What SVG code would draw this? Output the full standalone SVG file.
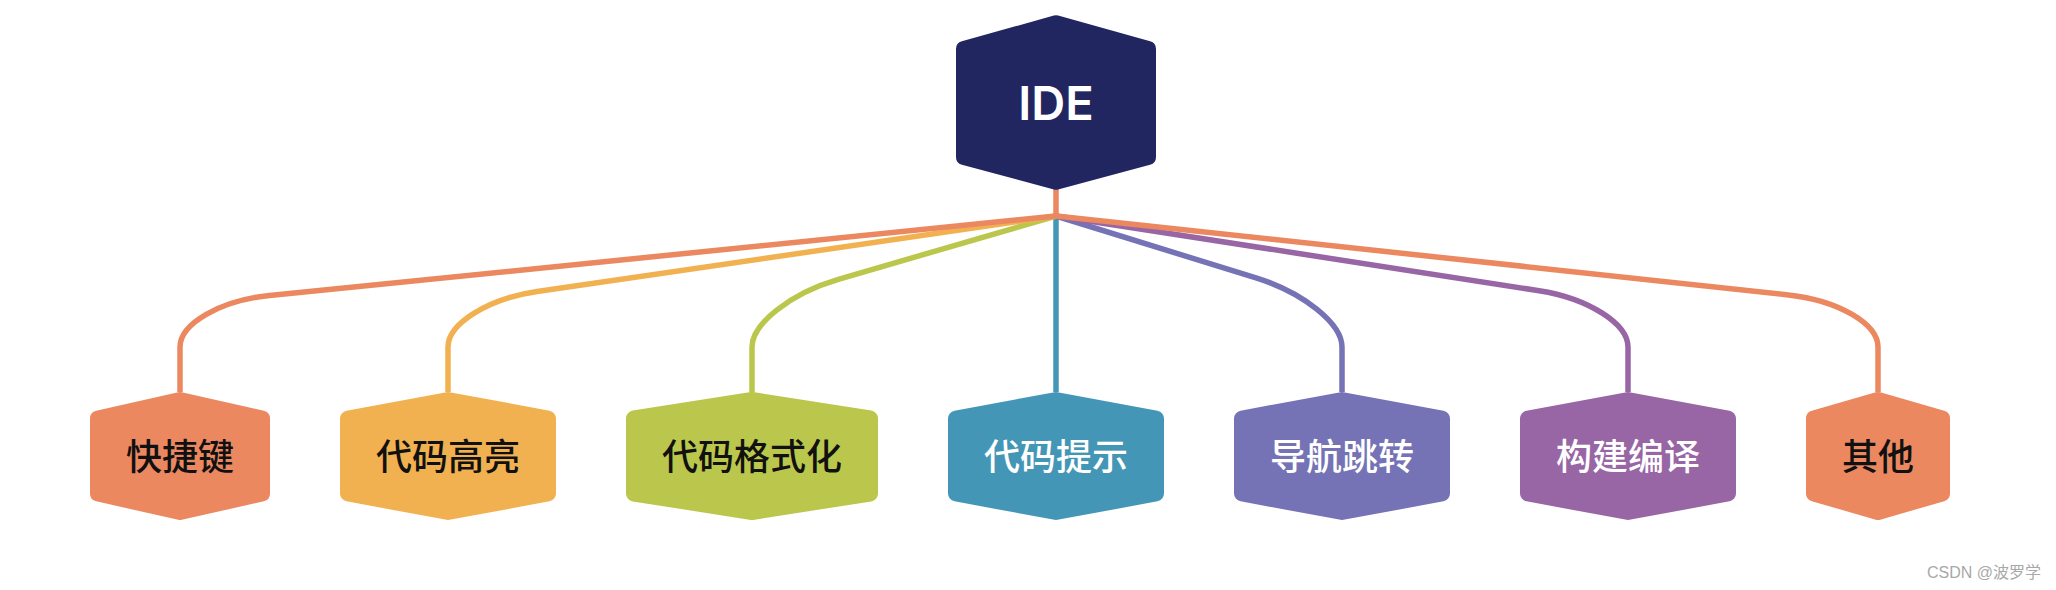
<svg xmlns="http://www.w3.org/2000/svg" width="2056" height="590" viewBox="0 0 2056 590">
  <style>
    .hex { stroke-width: 16; stroke-linejoin: round; }
    .c-navy { fill: #212661; stroke: #212661; }
    .c-orange { fill: #EB8860; stroke: #EB8860; }
    .c-yellow { fill: #F2B151; stroke: #F2B151; }
    .c-green { fill: #BBC74C; stroke: #BBC74C; }
    .c-teal { fill: #4496B7; stroke: #4496B7; }
    .c-peri { fill: #7573B5; stroke: #7573B5; }
    .c-purple { fill: #9866A5; stroke: #9866A5; }
    .edge { fill: none; stroke-width: 5.5; stroke-linejoin: round; }
    .label { font-family: "Noto Sans CJK SC", "Noto Sans", sans-serif; font-size: 36px; font-weight: 500; text-anchor: middle; }
    .dark { fill: #111111; }
    .light { fill: #FFFFFF; }
    .title { font-family: Inter, "Open Sans", sans-serif; font-size: 47px; font-weight: 600; fill: #FFFFFF; text-anchor: middle; }
    .wm { font-family: "Liberation Sans", "Noto Sans CJK SC", sans-serif; font-size: 16px; fill: #A8A8A8; text-anchor: end; }
  </style>

  <g id="connectors">
    <path class="edge" stroke="#4496B7" d="M1056,216 V392"/>
    <path class="edge" stroke="#7573B5" d="M1342,392 V347 C1342,323.6 1303.3,292.5 1256,277.9 L1056,216"/>
    <path class="edge" stroke="#9866A5" d="M1628,392 V347 C1628,323.6 1588,298.3 1539.1,290.7 L1056,216"/>
    <path class="edge" stroke="#BBC74C" d="M752,392 V347 C752,323.6 790.9,293.1 838.4,279.3 L1056,216"/>
    <path class="edge" stroke="#F2B151" d="M448,392 V347 C448,323.6 488.1,298.6 537.1,291.5 L1056,216"/>
    <path class="edge" stroke="#EB8860" d="M180,392 V347 C180,323.6 220.3,300.5 269.5,295.5 L1056,216"/>
    <path class="edge" stroke="#EB8860" d="M1878,392 V347 C1878,323.6 1837.7,300.2 1788.5,294.9 L1056,216"/>
    <path class="edge" stroke="#EB8860" d="M1056,185 V216"/>
  </g>

  <g id="node-ide">
    <polygon class="hex c-navy" points="1056,23.3 964,49 964,157 1056,181.7 1148,157 1148,49"/>
    <text class="title" x="1056" y="120">IDE</text>
  </g>

  <g id="node-shortcut">
    <polygon class="hex c-orange" points="180,400 98,418.5 98,493.5 180,512 262,493.5 262,418.5"/>
    <text class="label dark" x="180" y="470">快捷键</text>
  </g>

  <g id="node-highlight">
    <polygon class="hex c-yellow" points="448,400 348,418.5 348,493.5 448,512 548,493.5 548,418.5"/>
    <text class="label dark" x="448" y="470">代码高亮</text>
  </g>

  <g id="node-format">
    <polygon class="hex c-green" points="752,400 634,418.5 634,493.5 752,512 870,493.5 870,418.5"/>
    <text class="label dark" x="752" y="470">代码格式化</text>
  </g>

  <g id="node-hint">
    <polygon class="hex c-teal" points="1056,400 956,418.5 956,493.5 1056,512 1156,493.5 1156,418.5"/>
    <text class="label light" x="1056" y="470">代码提示</text>
  </g>

  <g id="node-navigate">
    <polygon class="hex c-peri" points="1342,400 1242,418.5 1242,493.5 1342,512 1442,493.5 1442,418.5"/>
    <text class="label light" x="1342" y="470">导航跳转</text>
  </g>

  <g id="node-build">
    <polygon class="hex c-purple" points="1628,400 1528,418.5 1528,493.5 1628,512 1728,493.5 1728,418.5"/>
    <text class="label light" x="1628" y="470">构建编译</text>
  </g>

  <g id="node-other">
    <polygon class="hex c-orange" points="1878,400 1814,418.5 1814,493.5 1878,512 1942,493.5 1942,418.5"/>
    <text class="label dark" x="1878" y="470">其他</text>
  </g>

  <text class="wm" x="2041" y="578">CSDN @波罗学</text>
</svg>
